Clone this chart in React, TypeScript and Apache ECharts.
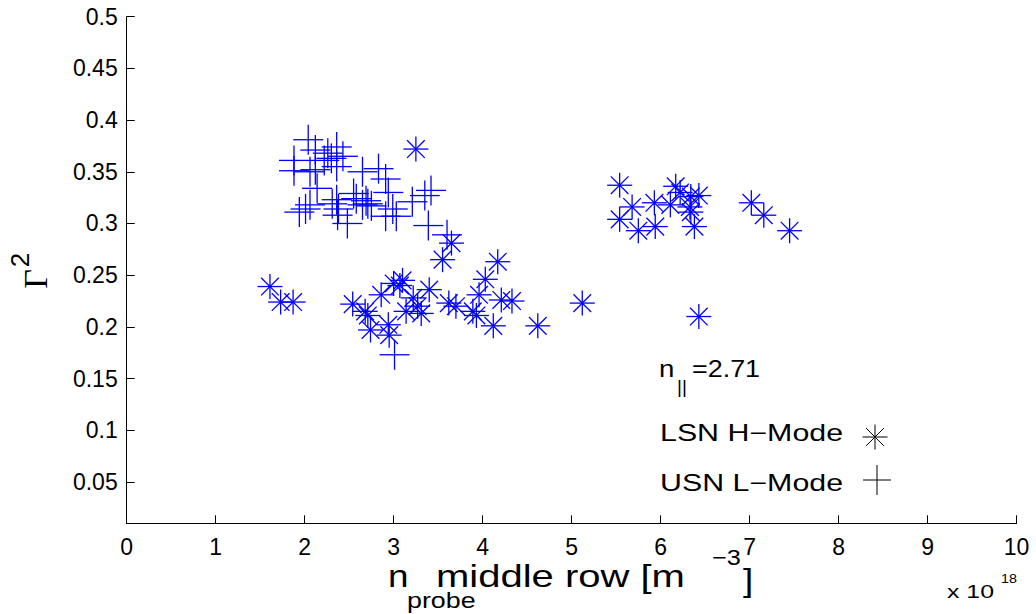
import React, { useEffect, useRef } from "react";
import * as echarts from "echarts";

// n_probe (middle row) in units of 1e18 m^-3, and Gamma^2
const usnLMode: [number, number][] = [
  [2.04, 0.381], [2.36, 0.374], [1.88, 0.361], [1.88, 0.351], [2.06, 0.35],
  [2.12, 0.371], [2.12, 0.352], [2.22, 0.361], [2.3, 0.363], [2.26, 0.368],
  [2.36, 0.355], [2.83, 0.353], [2.65, 0.35], [2.43, 0.365], [2.91, 0.343],
  [2.14, 0.334], [3.42, 0.332], [3.35, 0.327], [3.21, 0.321], [3.39, 0.298],
  [3.6, 0.289], [1.94, 0.311], [2.01, 0.314], [2.06, 0.318], [2.36, 0.323],
  [2.31, 0.319], [2.38, 0.314], [2.37, 0.308], [2.48, 0.3], [2.55, 0.329],
  [2.58, 0.324], [2.75, 0.317], [2.65, 0.318], [2.69, 0.322], [2.71, 0.319],
  [2.94, 0.33], [2.91, 0.307], [2.99, 0.314], [3.03, 0.307], [3.01, 0.173],
];

const lsnHMode: [number, number][] = [
  [3.25, 0.372], [1.61, 0.239], [1.73, 0.224], [1.87, 0.224], [2.54, 0.222],
  [2.71, 0.211], [2.68, 0.215], [2.74, 0.197], [2.94, 0.202], [2.95, 0.192],
  [2.86, 0.231], [3.0, 0.242], [3.1, 0.245], [3.07, 0.24], [3.4, 0.236],
  [3.22, 0.228], [3.27, 0.22], [3.31, 0.213], [3.14, 0.215], [3.55, 0.265],
  [3.65, 0.281], [3.62, 0.223], [3.7, 0.22], [3.89, 0.215], [3.93, 0.211],
  [3.96, 0.231], [4.03, 0.246], [4.17, 0.263], [4.21, 0.226], [4.33, 0.225],
  [4.12, 0.201], [4.62, 0.201], [5.12, 0.223], [5.54, 0.337], [5.68, 0.316],
  [5.54, 0.304], [5.75, 0.293], [5.93, 0.32], [5.94, 0.297], [6.11, 0.318],
  [6.17, 0.336], [6.22, 0.33], [6.34, 0.326], [6.43, 0.327], [6.33, 0.316],
  [6.34, 0.311], [6.38, 0.297], [7.02, 0.32], [7.16, 0.308], [7.45, 0.293],
  [6.43, 0.21],
];

const yTicks = [0.05, 0.1, 0.15, 0.2, 0.25, 0.3, 0.35, 0.4, 0.45, 0.5];

const BLUE = "#0000ff";
const SANS = "Liberation Sans";
const SERIF = "Liberation Serif";

// text placed by its baseline; 'middle' sits ~0.3465em above the baseline
const txt = (
  text: string,
  x: number,
  baseline: number,
  fontSize: number,
  scaleX = 1,
  fontFamily = SANS
) => ({
  type: "text",
  x,
  y: baseline - 0.3465 * fontSize,
  scaleX,
  silent: true,
  style: {
    text,
    fontSize,
    fontFamily,
    fill: "#000",
    align: "left",
    verticalAlign: "middle",
  },
});

const seg = (x1: number, y1: number, x2: number, y2: number, stroke: string, lineWidth: number) => ({
  type: "line",
  shape: { x1, y1, x2, y2 },
  style: { stroke, lineWidth },
});

const asteriskLines = (cx: number, cy: number, r: number, stroke: string, w: number) => {
  const d = r * Math.SQRT1_2;
  return [
    seg(cx - r, cy, cx + r, cy, stroke, w),
    seg(cx, cy - r, cx, cy + r, stroke, w),
    seg(cx - d, cy - d, cx + d, cy + d, stroke, w),
    seg(cx - d, cy + d, cx + d, cy - d, stroke, w),
  ];
};

const plusLines = (cx: number, cy: number, rx: number, ry: number, stroke: string, w: number) => [
  seg(cx - rx, cy, cx + rx, cy, stroke, w),
  seg(cx, cy - ry, cx, cy + ry, stroke, w),
];

export default function App() {
  const ref = useRef<HTMLDivElement>(null);

  useEffect(() => {
    if (!ref.current) return;
    const chart = echarts.init(ref.current, undefined, { renderer: "svg" });

    const option: any = {
      animation: false,
      backgroundColor: "#fff",
      grid: { left: 126.7, right: 19.5, top: 16.7, bottom: 90.7 },
      xAxis: {
        type: "value",
        min: 0,
        max: 10,
        interval: 1,
        axisLine: { show: true, onZero: false, lineStyle: { color: "#000", width: 1 } },
        axisTick: { show: true, inside: true, length: 8, lineStyle: { color: "#000", width: 1 } },
        axisLabel: { color: "#000", fontSize: 23, fontFamily: SANS, margin: 12 },
        splitLine: { show: false },
      },
      yAxis: {
        type: "value",
        min: 0.01,
        max: 0.5,
        axisLine: { show: true, onZero: false, lineStyle: { color: "#000", width: 1 } },
        axisTick: {
          show: true,
          inside: true,
          length: 8,
          customValues: yTicks,
          lineStyle: { color: "#000", width: 1 },
        },
        axisLabel: {
          color: "#000",
          fontSize: 23,
          fontFamily: SANS,
          margin: 9,
          customValues: yTicks,
          formatter: (v: number) => String(v),
        },
        splitLine: { show: false },
      },
      series: [
        {
          name: "USN L-Mode",
          type: "custom",
          silent: true,
          data: usnLMode,
          encode: { x: 0, y: 1 },
          renderItem: (_params: any, api: any) => {
            const [cx, cy] = api.coord([api.value(0), api.value(1)]);
            return { type: "group", children: plusLines(cx, cy, 15, 15, BLUE, 1.3) };
          },
        },
        {
          name: "LSN H-Mode",
          type: "custom",
          silent: true,
          data: lsnHMode,
          encode: { x: 0, y: 1 },
          renderItem: (_params: any, api: any) => {
            const [cx, cy] = api.coord([api.value(0), api.value(1)]);
            return { type: "group", children: asteriskLines(cx, cy, 12.5, BLUE, 1.3) };
          },
        },
      ],
      graphic: [
        // x axis title: n_probe middle row [m^-3]
        txt("n", 388, 587, 32, 1.15),
        txt("probe", 407, 608, 22, 1.22),
        txt("middle row [m", 436, 587, 32, 1.25),
        txt("\u22123", 712, 565, 22, 1.15),
        txt("]", 743, 591, 32, 1.15),
        // axis multiplier
        txt("x 10", 947, 598, 19, 1.31),
        txt("18", 1001, 583.3, 13, 1.1),
        // y axis title: Gamma^2, rotated
        {
          type: "group",
          x: 35,
          y: 279,
          rotation: Math.PI / 2,
          silent: true,
          children: [
            {
              type: "text",
              x: 0,
              y: 0,
              style: { text: "\u0393", fontSize: 34, fontFamily: SERIF, fill: "#000", align: "center", verticalAlign: "middle" },
            },
            {
              type: "text",
              x: 19,
              y: -15,
              style: { text: "2", fontSize: 26, fontFamily: SANS, fill: "#000", align: "center", verticalAlign: "middle" },
            },
          ],
        },
        // annotation and legend
        txt("n", 659, 376.7, 24, 1.15),
        txt("||", 677, 393, 19, 1),
        txt("=2.71", 692, 376.7, 23, 1.17),
        txt("LSN H\u2212Mode", 660, 441.7, 23, 1.32),
        txt("USN L\u2212Mode", 660, 491.7, 23, 1.32),
        { type: "group", silent: true, children: asteriskLines(875, 437, 12.5, "#000", 1) },
        { type: "group", silent: true, children: plusLines(877, 480, 14, 15, "#000", 1) },
      ],
    };

    chart.setOption(option);
    return () => chart.dispose();
  }, []);

  return (
    <div
      ref={ref}
      style={{ position: "absolute", left: 0, top: 0, width: 1036, height: 614, background: "#fff" }}
    />
  );
}
